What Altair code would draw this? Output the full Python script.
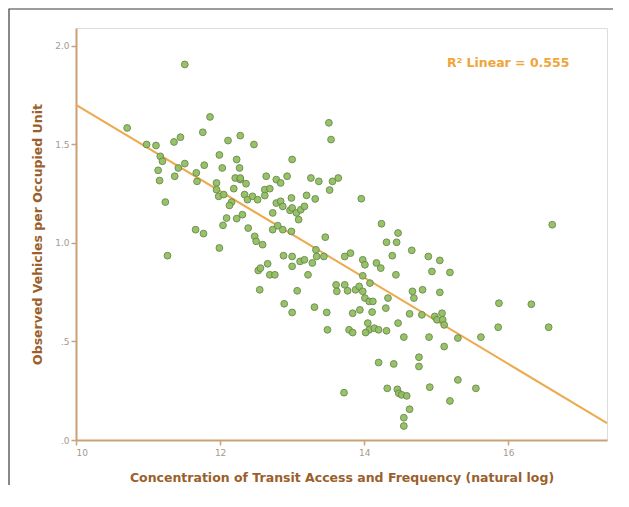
import altair as alt
import pandas as pd

# Observed points
x_vals = [11.51, 10.71, 11.86, 10.98, 11.11, 11.36, 11.45, 11.76, 12.11, 12.28,
          12.47, 13.51, 13.54, 11.17, 11.20, 11.14, 11.16, 11.24, 11.27, 11.37,
          11.42, 11.51, 11.67, 11.68, 11.78, 11.66, 11.77, 11.99, 12.03, 11.95,
          11.95, 11.98, 11.99, 12.09, 12.04, 12.16, 12.19, 12.23, 12.27, 12.21,
          12.28, 12.23, 12.31, 12.39, 12.34, 12.38, 12.45, 12.52, 12.48, 12.50,
          12.59, 12.53, 12.56, 12.55, 12.66, 12.64, 12.62, 12.69, 12.78, 12.84,
          12.93, 13.00, 12.73, 12.78, 12.84, 12.87, 12.73, 12.80, 12.87, 12.99,
          12.69, 12.76, 12.88, 12.89, 13.00, 13.00, 13.07, 13.00, 13.11, 12.97,
          13.00, 13.06, 13.12, 13.17, 13.09, 12.99, 13.20, 13.32, 13.26, 13.37,
          13.17, 13.28, 13.34, 13.22, 13.31, 13.44, 13.46, 13.33, 13.48, 13.49,
          13.52, 13.56, 13.64, 13.72, 13.61, 13.62, 13.73, 13.77, 13.73, 13.81,
          13.79, 13.84, 13.84, 13.94, 13.88, 13.93, 13.98, 14.01, 13.96, 13.98,
          14.01, 13.98, 14.07, 14.12, 14.11, 14.05, 14.07, 14.14, 14.20, 14.02,
          14.08, 14.17, 14.23, 14.24, 14.31, 14.45, 14.47, 14.39, 14.44, 14.33,
          14.30, 14.31, 14.20, 14.41, 14.32, 14.47, 14.55, 14.46, 14.48, 14.52,
          14.59, 14.63, 14.55, 14.55, 14.66, 14.67, 14.69, 14.81, 14.63, 14.80,
          14.76, 14.76, 14.89, 14.94, 15.05, 15.05, 14.90, 14.91, 14.98, 15.01,
          15.08, 15.09, 15.11, 15.11, 15.19, 15.19, 15.30, 15.30, 15.55, 15.62,
          15.87, 15.86, 16.32, 16.56, 16.61, 12.28, 12.36, 12.13, 12.05, 12.62]
y_vals = [1.905, 1.583, 1.639, 1.499, 1.494, 1.512, 1.536, 1.561, 1.519, 1.544,
          1.499, 1.609, 1.524, 1.439, 1.414, 1.368, 1.316, 1.207, 0.935, 1.338,
          1.380, 1.402, 1.355, 1.312, 1.394, 1.067, 1.047, 1.446, 1.380, 1.304,
          1.270, 1.236, 0.974, 1.126, 1.089, 1.207, 1.275, 1.423, 1.380, 1.329,
          1.321, 1.123, 1.143, 1.075, 1.245, 1.219, 1.236, 1.219, 1.033, 1.008,
          0.991, 0.860, 0.872, 0.762, 0.894, 1.338, 1.270, 1.275, 1.321, 1.304,
          1.338, 1.423, 1.152, 1.202, 1.211, 1.185, 1.067, 1.087, 1.067, 1.058,
          0.838, 0.838, 0.935, 0.691, 0.647, 0.881, 0.757, 0.931, 0.906, 1.165,
          1.177, 1.152, 1.168, 1.185, 1.118, 1.228, 1.241, 1.223, 1.329, 1.312,
          0.914, 0.898, 0.931, 0.838, 0.674, 0.931, 1.029, 0.965, 0.647, 0.559,
          1.268, 1.312, 1.329, 0.240, 0.787, 0.754, 0.787, 0.757, 0.931, 0.948,
          0.559, 0.545, 0.643, 0.660, 0.762, 0.779, 0.754, 0.720, 1.224, 0.914,
          0.889, 0.833, 0.703, 0.703, 0.649, 0.593, 0.559, 0.567, 0.559, 0.545,
          0.796, 0.898, 0.872, 1.097, 1.003, 1.003, 1.050, 0.935, 0.838, 0.720,
          0.669, 0.554, 0.393, 0.386, 0.262, 0.593, 0.522, 0.257, 0.237, 0.229,
          0.224, 0.156, 0.113, 0.071, 0.962, 0.754, 0.720, 0.762, 0.640, 0.635,
          0.420, 0.373, 0.931, 0.855, 0.911, 0.749, 0.522, 0.268, 0.627, 0.610,
          0.643, 0.610, 0.584, 0.474, 0.850, 0.198, 0.517, 0.305, 0.262, 0.522,
          0.694, 0.572, 0.689, 0.572, 1.092, 1.329, 1.300, 1.190, 1.245, 1.240]

# Linear fit line (end points)
fit_x = [10.0, 17.37]
fit_y = [1.70, 0.086]

# Annotation
label_text = ["R\u00b2 Linear = 0.555"]
label_x = [15.15]
label_y = [1.91]

x_ticks = [10, 12, 14, 16]
y_ticks = [0, 0.5, 1.0, 1.5, 2.0]

pts = pd.DataFrame({"x": x_vals, "y": y_vals})
fit = pd.DataFrame({"x": fit_x, "y": fit_y})
lab = pd.DataFrame({"x": label_x, "y": label_y, "t": label_text})

frame_col = "#c9a078"
title_col = "#9a5f2c"
tick_lab_col = "#a39a8e"

xs = alt.Scale(domain=[10, 17.37], nice=False, zero=False)
ys = alt.Scale(domain=[0, 2.09], nice=False)

x_axis = alt.Axis(values=x_ticks, format="d",
                  title="Concentration of Transit Access and Frequency (natural log)",
                  grid=False, domainColor=frame_col, domainWidth=2, tickColor=frame_col,
                  tickSize=5, tickWidth=1.5, labelColor=tick_lab_col, labelFontSize=9,
                  labelFont="DejaVu Sans", titleFont="DejaVu Sans", titleFontSize=12.5,
                  titleFontWeight="bold", titleColor=title_col, titlePadding=14, labelPadding=3)
y_axis = alt.Axis(values=y_ticks, title="Observed Vehicles per Occupied Unit",
                  labelExpr="datum.value == 0 ? '.0' : datum.value == 0.5 ? '.5' : format(datum.value, '.1f')",
                  grid=False, domainColor=frame_col, domainWidth=2, tickColor=frame_col,
                  tickSize=5, tickWidth=1.5, labelColor=tick_lab_col, labelFontSize=9,
                  labelFont="DejaVu Sans", titleFont="DejaVu Sans", titleFontSize=12.5,
                  titleFontWeight="bold", titleColor=title_col, titlePadding=10, labelPadding=2)

points = alt.Chart(pts).mark_circle(size=46, color="#92c05e", stroke="#6b8a52",
                                    strokeWidth=1, opacity=0.95).encode(
    x=alt.X("x:Q", scale=xs, axis=x_axis),
    y=alt.Y("y:Q", scale=ys, axis=y_axis),
)

line = alt.Chart(fit).mark_line(color="#eda94c", strokeWidth=2).encode(
    x=alt.X("x:Q", scale=xs),
    y=alt.Y("y:Q", scale=ys),
)

text = alt.Chart(lab).mark_text(align="left", baseline="middle", fontSize=12.5,
                                fontWeight="bold", font="DejaVu Sans",
                                color="#f0a53a").encode(
    x=alt.X("x:Q", scale=xs),
    y=alt.Y("y:Q", scale=ys),
    text="t:N",
)

border = alt.Chart(pd.DataFrame({"a": [0]})).mark_rect(
    fill=None, stroke="#3a3a3a", strokeWidth=1.2).encode(
    x=alt.value(-67), x2=alt.value(614), y=alt.value(-19), y2=alt.value(480),
)

chart = alt.layer(border, line, points, text).properties(
    width=531, height=412,
    autosize=alt.AutoSizeParams(type="none"),
    padding={"left": 68, "top": 20, "right": 6, "bottom": 45},
).configure_view(stroke=frame_col, strokeWidth=2).configure(background="white")

chart.save("out.html", embed_options={"renderer": "svg", "actions": False})
